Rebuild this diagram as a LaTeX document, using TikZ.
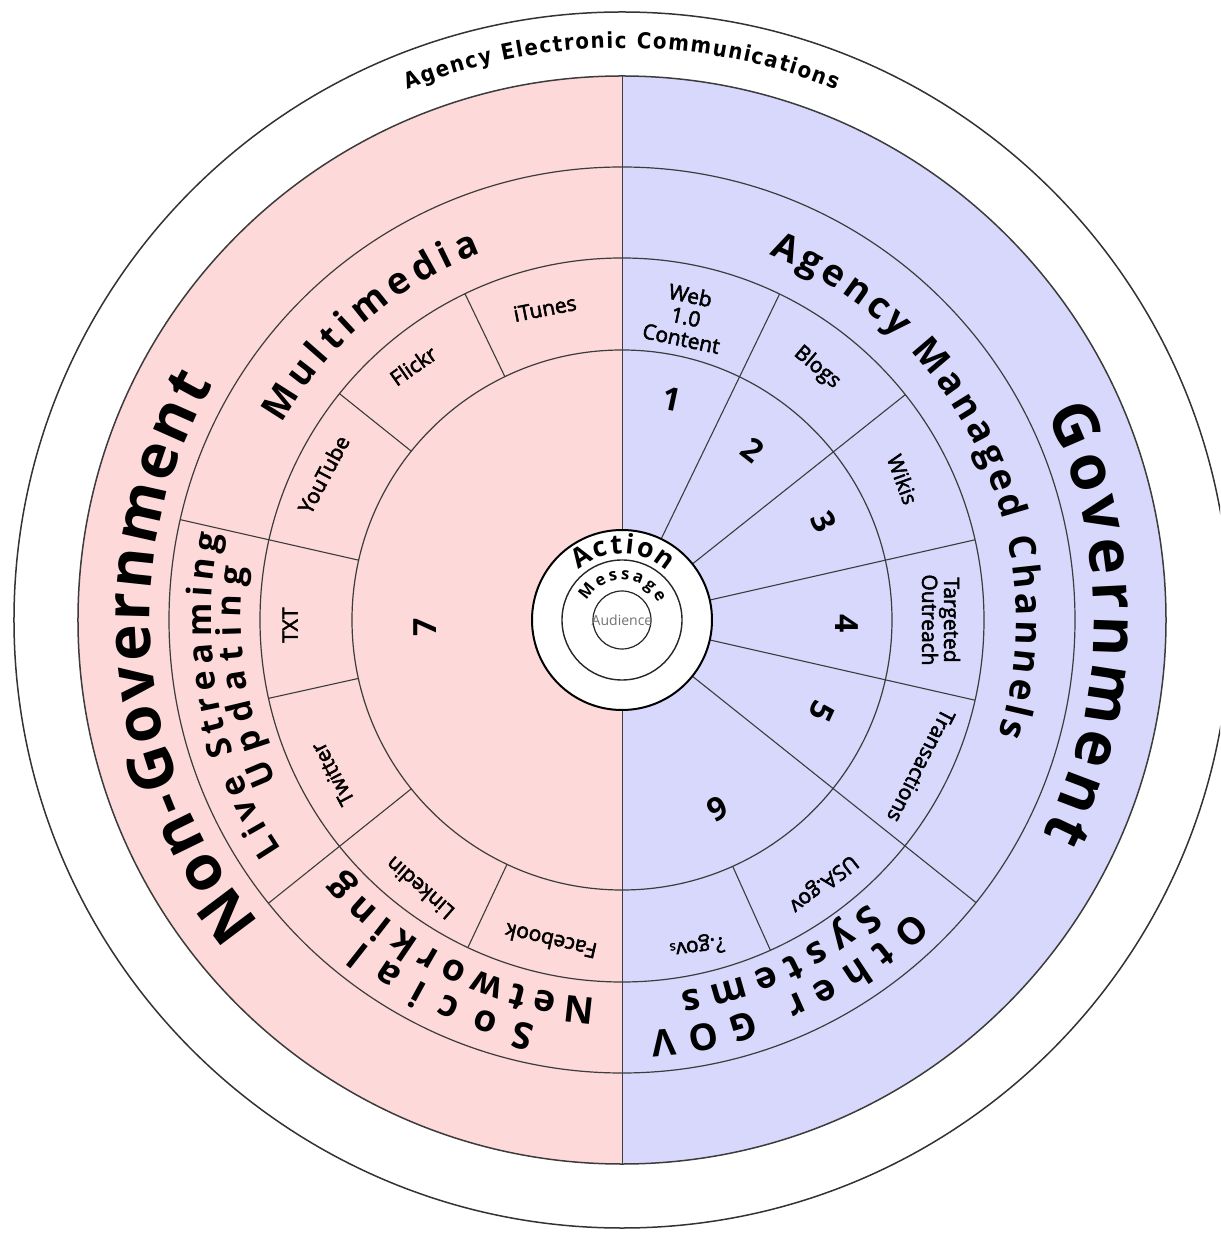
\documentclass[tikz,border=0pt]{standalone}
\usepackage{fontspec}
\usetikzlibrary{decorations.text}
\newfontfamily\hfont{Open Sans}
\newfontfamily\itemfont{Open Sans}[FakeBold=2.5]
\newfontfamily\condfont{DejaVu Sans Condensed}
\newcommand\fGov{\hfont\bfseries\fontsize{62}{62}\selectfont}
\newcommand\fSec{\hfont\bfseries\fontsize{37}{37}\selectfont}
\newcommand\fLive{\hfont\bfseries\fontsize{34}{34}\selectfont}
\newcommand\fAEC{\condfont\bfseries\fontsize{22}{22}\selectfont}
\newcommand\fAct{\hfont\bfseries\fontsize{27}{27}\selectfont}
\newcommand\fMsg{\hfont\bfseries\fontsize{16.5}{16.5}\selectfont}
\newcommand\fItem{\itemfont\fontsize{21}{22}\selectfont}
\newcommand\fNum{\hfont\bfseries\fontsize{32}{32}\selectfont}
\newcommand\fAud{\hfont\fontsize{14}{14}\selectfont}
\definecolor{pinkc}{RGB}{253,217,217}
\definecolor{bluec}{RGB}{216,216,252}
\definecolor{linec}{RGB}{60,60,60}
\tikzset{
  ringline/.style={draw=linec, line width=1.2pt},
  sectorline/.style={draw=linec, line width=1.1pt},
  itemlbl/.style={font=\fItem, align=center, inner sep=0pt, text=black},
  numlbl/.style={font=\fNum, inner sep=0pt},
  curvedtext/.style={decorate, decoration={text along path, text={#1}, text align={fit to path}}}
}
\begin{document}
\begin{tikzpicture}
\useasboundingbox (-622pt,-613pt) rectangle (598pt,620pt);
\clip (-622pt,-613pt) rectangle (598pt,620pt);
\fill[white] (-622pt,-613pt) rectangle (598pt,620pt);
% outer white ring
\draw[draw=black!80, line width=1.5pt] (0,0) circle[radius=608pt];
% halves
\fill[pinkc] (90:544pt) arc[start angle=90, end angle=270, radius=544pt] -- cycle;
\fill[bluec] (90:544pt) arc[start angle=90, end angle=-90, radius=544pt] -- cycle;
\draw[draw=linec, line width=1pt] (0pt,544pt) -- (0pt,-544pt);
% rings
\draw[ringline, line width=1.5pt] (0,0) circle[radius=544pt];
\draw[ringline] (0,0) circle[radius=453pt];
\draw[ringline] (0,0) circle[radius=362pt];
\draw[ringline] (0,0) circle[radius=270pt];
% government sector lines
\draw[sectorline] (64.2:90pt) -- (64.2:362pt);
\draw[sectorline] (38.5:90pt) -- (38.5:362pt);
\draw[sectorline] (12.8:90pt) -- (12.8:362pt);
\draw[sectorline] (-12.8:90pt) -- (-12.8:362pt);
\draw[sectorline] (-38.6:90pt) -- (-38.6:453pt);
\draw[sectorline] (-65.8:270pt) -- (-65.8:362pt);
% non-government sector lines
\draw[sectorline] (115.7:270pt) -- (115.7:362pt);
\draw[sectorline] (141.3:270pt) -- (141.3:362pt);
\draw[sectorline] (167.2:270pt) -- (167.2:453pt);
\draw[sectorline] (192.5:270pt) -- (192.5:362pt);
\draw[sectorline] (218.7:270pt) -- (218.7:453pt);
\draw[sectorline] (244.8:270pt) -- (244.8:362pt);
% centre
\draw[fill=white, draw=black, line width=2pt] (0,0) circle[radius=90pt];
\draw[draw=black!85, line width=1.4pt] (0,0) circle[radius=60pt];
\draw[draw=black!85, line width=1.2pt] (0,0) circle[radius=29pt];
\node[font=\fAud, text=black!55, inner sep=0pt] (aud) at (0,0) {Audience};
\path[curvedtext={|\fAct|Action}] (131:66pt) arc[start angle=131, end angle=47, radius=66pt];
\path[curvedtext={|\fMsg|Message}] (152:40pt) arc[start angle=152, end angle=26, radius=40pt];
% big curved titles
\path[curvedtext={|\fAEC|Agency Electronic Communications}] (112:572pt) arc[start angle=112, end angle=68, radius=572pt];
\path[curvedtext={|\fGov|Government}] (26:472pt) arc[start angle=26, end angle=-27, radius=472pt];
\path[curvedtext={|\fGov|Non-Government}] (220:472pt) arc[start angle=220, end angle=150, radius=472pt];
\path[curvedtext={|\fSec|Agency Managed Channels}] (68:394pt) arc[start angle=68, end angle=-17, radius=394pt];
\path[curvedtext={|\fSec|Multimedia}] (150:393pt) arc[start angle=150, end angle=111, radius=393pt];
\path[curvedtext={|\fLive|Live Streaming}] (214:411pt) arc[start angle=214, end angle=168, radius=411pt];
\path[curvedtext={|\fLive|Updating}] (205:381pt) arc[start angle=205, end angle=172, radius=381pt];
\path[curvedtext={|\fSec|Social}] (258:414pt) arc[start angle=258, end angle=231, radius=414pt];
\path[curvedtext={|\fSec|Networking}] (266:379pt) arc[start angle=266, end angle=222, radius=379pt];
\path[curvedtext={|\fSec|Other GOV}] (-45:412pt) arc[start angle=-45, end angle=-86, radius=412pt];
\path[curvedtext={|\fSec|Systems}] (-49:376pt) arc[start angle=-49, end angle=-81, radius=376pt];
% item labels
\node[itemlbl, rotate=-12] (web) at (78.1:310pt) {Web\\1.0\\Content};
\node[itemlbl, rotate=-40] (blogs) at (52.3:319pt) {Blogs};
\node[itemlbl, rotate=-70] (wikis) at (26.6:314pt) {Wikis};
\node[itemlbl, rotate=-90] (targeted) at (0:319pt) {Targeted\\Outreach};
\node[itemlbl, rotate=-117] (trans) at (-26:333pt) {Transactions};
\node[itemlbl, rotate=-142] (usagov) at (-52.6:331pt) {USA.gov};
\node[itemlbl, rotate=-173] (qgov) at (-77:334pt) {?.gov{\fontsize{13}{13}\selectfont s}};
\node[itemlbl, rotate=167] (facebook) at (-102.5:329pt) {Facebook};
\node[itemlbl, rotate=139] (linkedin) at (233:336pt) {Linkedin};
\node[itemlbl, rotate=118] (twitter) at (208:328pt) {Twitter};
\node[itemlbl, rotate=90] (txt) at (180.9:332pt) {TXT};
\node[itemlbl, rotate=62] (youtube) at (154:332pt) {YouTube};
\node[itemlbl, rotate=35] (flickr) at (129.4:329pt) {Flickr};
\node[itemlbl, rotate=11] (itunes) at (103.9:321pt) {iTunes};
% numbers
\node[numlbl, rotate=-12] (n1) at (77.2:226pt) {1};
\node[numlbl, rotate=-38] (n2) at (52.4:215pt) {2};
\node[numlbl, rotate=-64] (n3) at (26:224pt) {3};
\node[numlbl, rotate=-90] (n4) at (-0.8:225pt) {4};
\node[numlbl, rotate=-115] (n5) at (-24.7:220pt) {5};
\node[numlbl, rotate=-153] (n6) at (-63.2:211pt) {6};
\node[numlbl, rotate=90] (n7) at (182:197pt) {7};
\end{tikzpicture}
\end{document}
